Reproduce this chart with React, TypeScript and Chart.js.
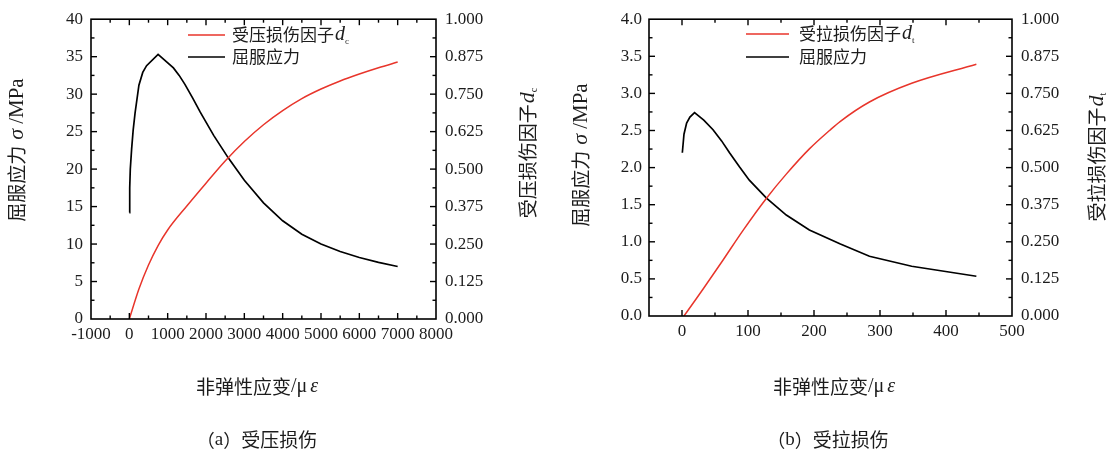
import React, { useEffect, useRef } from "react";
import { Chart, registerables } from "chart.js";
Chart.register(...registerables);

// ---------- (a) compression damage ----------
const A_STRESS_X = [0, 10, 25, 60, 100, 150, 250, 350, 450, 750, 1150, 1300, 1450, 1650, 1850, 2200, 2580, 3000, 3500, 4000, 4500, 5000, 5500, 6000, 6500, 7000];
const A_STRESS_Y = [14.2, 17.5, 20.0, 22.7, 25.2, 27.5, 31.2, 32.9, 33.8, 35.3, 33.5, 32.5, 31.3, 29.5, 27.6, 24.5, 21.5, 18.5, 15.5, 13.1, 11.3, 10.0, 9.0, 8.2, 7.55, 7.0];
const A_DAMAGE_X = [0, 250, 500, 750, 1000, 1500, 2000, 2500, 3000, 3500, 4000, 4500, 5000, 5500, 6000, 6500, 7000];
const A_DAMAGE_Y = [0, 0.1, 0.18, 0.245, 0.297, 0.377, 0.453, 0.527, 0.592, 0.648, 0.695, 0.735, 0.767, 0.794, 0.817, 0.838, 0.857];
const A_X_TICKS = [-1000, 0, 1000, 2000, 3000, 4000, 5000, 6000, 7000, 8000];
const A_YL_TICKS = [0, 5, 10, 15, 20, 25, 30, 35, 40];
const A_YR_TICKS = [0, 0.125, 0.25, 0.375, 0.5, 0.625, 0.75, 0.875, 1.0];

// ---------- (b) tension damage ----------
const B_STRESS_X = [0.5, 3, 7, 12, 19, 33, 47, 60, 72, 87, 102, 128, 158, 193, 240, 284, 348, 446];
const B_STRESS_Y = [2.2, 2.45, 2.6, 2.68, 2.74, 2.64, 2.51, 2.36, 2.2, 2.01, 1.83, 1.59, 1.36, 1.16, 0.97, 0.805, 0.67, 0.536];
const B_DAMAGE_X = [3, 20, 32, 62, 92, 128, 158, 193, 224, 240, 284, 348, 446];
const B_DAMAGE_Y = [0, 0.053, 0.091, 0.188, 0.287, 0.397, 0.478, 0.563, 0.626, 0.656, 0.721, 0.784, 0.848];
const B_X_TICKS = [0, 100, 200, 300, 400, 500];
const B_YL_TICKS = [0, 0.5, 1.0, 1.5, 2.0, 2.5, 3.0, 3.5, 4.0];
const B_YR_TICKS = [0, 0.125, 0.25, 0.375, 0.5, 0.625, 0.75, 0.875, 1.0];

const RED = "#e8352b";
const TXT = "#1c1c1c";
const CJK = '"Noto Sans CJK SC"';
const SERIF = '"Liberation Serif", serif';

type Part = { t: string; f: string; dy?: number; gap?: number };

function measureParts(ctx: CanvasRenderingContext2D, parts: Part[]) {
  let total = 0;
  const ws = parts.map((p) => {
    ctx.font = p.f;
    const w = ctx.measureText(p.t).width;
    total += w + (p.gap || 0);
    return w;
  });
  return { ws, total };
}

function drawParts(
  ctx: CanvasRenderingContext2D,
  parts: Part[],
  x0: number,
  y0: number,
  rot: number,
  align: "center" | "left"
) {
  ctx.save();
  ctx.translate(x0, y0);
  if (rot) ctx.rotate(rot);
  const { ws, total } = measureParts(ctx, parts);
  let x = align === "center" ? -total / 2 : 0;
  ctx.textBaseline = "middle";
  ctx.textAlign = "left";
  ctx.fillStyle = TXT;
  parts.forEach((p, i) => {
    x += p.gap || 0;
    ctx.font = p.f;
    ctx.fillText(p.t, x, p.dy || 0);
    x += ws[i];
  });
  ctx.restore();
}

type Deco = {
  xMajor: number;
  xMinor: number;
  ylMajor: number;
  ylMinor: number;
  leftTitle: Part[];
  leftTitlePos: [number, number];
  rightTitle: Part[];
  rightTitlePos: [number, number];
  xTitle: Part[];
  xTitlePos: [number, number];
  caption: Part[];
  captionPos: [number, number];
  legend: { color: string; parts: Part[]; y: number }[];
  legendLine: [number, number];
  legendText: number;
};

const decoPlugin = {
  id: "deco",
  afterDraw(chart: any, _args: any, opts: Deco) {
    const { ctx, chartArea: ca, scales } = chart;
    const x = scales.x;
    const yl = scales.y;
    ctx.save();
    ctx.strokeStyle = "#000";
    ctx.lineWidth = 1.6;
    ctx.strokeRect(ca.left, ca.top, ca.right - ca.left, ca.bottom - ca.top);
    ctx.lineWidth = 1.4;
    const seg = (a: number, b: number, c: number, d: number) => {
      ctx.beginPath();
      ctx.moveTo(a, b);
      ctx.lineTo(c, d);
      ctx.stroke();
    };
    const isMajor = (v: number, m: number) => Math.abs(v / m - Math.round(v / m)) < 1e-6;
    const xs = Math.ceil(x.min / opts.xMinor - 1e-9) * opts.xMinor;
    for (let v = xs; v <= x.max + 1e-9; v += opts.xMinor) {
      const px = x.getPixelForValue(v);
      if (px <= ca.left + 0.5 || px >= ca.right - 0.5) continue;
      const len = isMajor(v, opts.xMajor) ? 6 : 3.5;
      seg(px, ca.bottom, px, ca.bottom - len);
      seg(px, ca.top, px, ca.top + len);
    }
    for (let v = yl.min; v <= yl.max + 1e-9; v += opts.ylMinor) {
      const py = yl.getPixelForValue(v);
      if (py <= ca.top + 0.5 || py >= ca.bottom - 0.5) continue;
      const len = isMajor(v, opts.ylMajor) ? 6 : 3.5;
      seg(ca.left, py, ca.left + len, py);
      seg(ca.right, py, ca.right - len, py);
    }
    opts.legend.forEach((l) => {
      ctx.strokeStyle = l.color;
      ctx.lineWidth = 1.6;
      seg(opts.legendLine[0], l.y, opts.legendLine[1], l.y);
      drawParts(ctx, l.parts, opts.legendText, l.y, 0, "left");
    });
    drawParts(ctx, opts.leftTitle, opts.leftTitlePos[0], opts.leftTitlePos[1], -Math.PI / 2, "center");
    drawParts(ctx, opts.rightTitle, opts.rightTitlePos[0], opts.rightTitlePos[1], -Math.PI / 2, "center");
    drawParts(ctx, opts.xTitle, opts.xTitlePos[0], opts.xTitlePos[1], 0, "center");
    drawParts(ctx, opts.caption, opts.captionPos[0], opts.captionPos[1], 0, "center");
    ctx.restore();
  },
};

type Props = {
  width: number;
  height: number;
  left: number;
  padTop: number;
  xHeight: number;
  ylWidth: number;
  yrWidth: number;
  xMin: number;
  xMax: number;
  xTicks: number[];
  ylMax: number;
  ylTicks: number[];
  ylDigits: number;
  yrTicks: number[];
  ylPad: number;
  stressX: number[];
  stressY: number[];
  damageX: number[];
  damageY: number[];
  deco: Deco;
};

function DamageChart(p: Props) {
  const ref = useRef<HTMLCanvasElement>(null);
  useEffect(() => {
    if (!ref.current) return;
    const tickFont = { family: SERIF, size: 17 };
    const chart = new Chart(ref.current, {
      type: "line",
      data: {
        datasets: [
          {
            label: "damage",
            data: p.damageX.map((v, i) => ({ x: v, y: p.damageY[i] })),
            borderColor: RED,
            borderWidth: 1.5,
            pointRadius: 0,
            cubicInterpolationMode: "monotone",
            yAxisID: "y1",
          },
          {
            label: "stress",
            data: p.stressX.map((v, i) => ({ x: v, y: p.stressY[i] })),
            borderColor: "#000",
            borderWidth: 1.7,
            pointRadius: 0,
            tension: 0,
            yAxisID: "y",
          },
        ],
      },
      options: {
        responsive: false,
        animation: false,
        devicePixelRatio: window.devicePixelRatio || 1,
        layout: { padding: { top: p.padTop, left: 0, right: 0, bottom: 0 } },
        plugins: {
          legend: { display: false },
          tooltip: { enabled: false },
          deco: p.deco,
        } as any,
        scales: {
          x: {
            type: "linear",
            position: "bottom",
            min: p.xMin,
            max: p.xMax,
            afterBuildTicks: (s: any) => {
              s.ticks = p.xTicks.map((v) => ({ value: v }));
            },
            afterFit: (s: any) => {
              s.height = p.xHeight;
            },
            grid: { display: false, drawTicks: false },
            border: { display: false },
            ticks: {
              padding: 5,
              font: tickFont,
              color: TXT,
              maxRotation: 0,
              autoSkip: false,
              callback: (v: any) => String(v),
            },
          },
          y: {
            type: "linear",
            position: "left",
            min: 0,
            max: p.ylMax,
            afterBuildTicks: (s: any) => {
              s.ticks = p.ylTicks.map((v) => ({ value: v }));
            },
            afterFit: (s: any) => {
              s.width = p.ylWidth;
            },
            grid: { display: false, drawTicks: false },
            border: { display: false },
            ticks: {
              padding: p.ylPad,
              font: tickFont,
              color: TXT,
              autoSkip: false,
              callback: (v: any) => Number(v).toFixed(p.ylDigits),
            },
          },
          y1: {
            type: "linear",
            position: "right",
            min: 0,
            max: 1,
            afterBuildTicks: (s: any) => {
              s.ticks = p.yrTicks.map((v) => ({ value: v }));
            },
            afterFit: (s: any) => {
              s.width = p.yrWidth;
            },
            grid: { display: false, drawTicks: false },
            border: { display: false },
            ticks: {
              padding: 9,
              font: tickFont,
              color: TXT,
              autoSkip: false,
              callback: (v: any) => Number(v).toFixed(3),
            },
          },
        },
      },
      plugins: [decoPlugin as any],
    });
    return () => chart.destroy();
  }, []);
  return (
    <canvas
      ref={ref}
      width={p.width}
      height={p.height}
      style={{ position: "absolute", left: p.left, top: 0, width: p.width, height: p.height }}
    />
  );
}

const f = (size: number, fam: string, style = "") => `${style} ${size}px ${fam}`.trim();

export default function App() {
  const decoA: Deco = {
    xMajor: 1000,
    xMinor: 500,
    ylMajor: 5,
    ylMinor: 2.5,
    leftTitle: [
      { t: "屈服应力", f: f(19, CJK) },
      { t: "σ", f: f(22, SERIF, "italic"), gap: 6 },
      { t: "/MPa", f: f(21, SERIF), gap: 5 },
    ],
    leftTitlePos: [17, 150],
    rightTitle: [
      { t: "受压损伤因子", f: f(19, CJK) },
      { t: "d", f: f(22, SERIF, "italic"), gap: 1 },
      { t: "c", f: f(10, SERIF), dy: 6 },
    ],
    rightTitlePos: [528, 153],
    xTitle: [
      { t: "非弹性应变", f: f(19, CJK) },
      { t: "/μ", f: f(20, SERIF) },
      { t: "ε", f: f(20, SERIF, "italic"), gap: 3 },
    ],
    xTitlePos: [257, 387],
    caption: [
      { t: "（", f: f(18, CJK) },
      { t: "a", f: f(19, SERIF) },
      { t: "）", f: f(18, CJK) },
      { t: "受压损伤", f: f(19, CJK) },
    ],
    captionPos: [257, 440],
    legend: [
      {
        color: RED,
        y: 35,
        parts: [
          { t: "受压损伤因子", f: f(17, CJK) },
          { t: "d", f: f(20, SERIF, "italic"), gap: 1 },
          { t: "c", f: f(9, SERIF), dy: 7 },
        ],
      },
      { color: "#000", y: 57, parts: [{ t: "屈服应力", f: f(17, CJK) }] },
    ],
    legendLine: [188, 225],
    legendText: 232,
  };

  const decoB: Deco = {
    xMajor: 100,
    xMinor: 50,
    ylMajor: 0.5,
    ylMinor: 0.25,
    leftTitle: [
      { t: "屈服应力", f: f(19, CJK) },
      { t: "σ", f: f(22, SERIF, "italic"), gap: 6 },
      { t: "/MPa", f: f(21, SERIF), gap: 5 },
    ],
    leftTitlePos: [23, 155],
    rightTitle: [
      { t: "受拉损伤因子", f: f(19, CJK) },
      { t: "d", f: f(22, SERIF, "italic"), gap: 1 },
      { t: "t", f: f(10, SERIF), dy: 6 },
    ],
    rightTitlePos: [539, 157],
    xTitle: [
      { t: "非弹性应变", f: f(19, CJK) },
      { t: "/μ", f: f(20, SERIF) },
      { t: "ε", f: f(20, SERIF, "italic"), gap: 3 },
    ],
    xTitlePos: [276, 387],
    caption: [
      { t: "（", f: f(18, CJK) },
      { t: "b", f: f(19, SERIF) },
      { t: "）", f: f(18, CJK) },
      { t: "受拉损伤", f: f(19, CJK) },
    ],
    captionPos: [270, 440],
    legend: [
      {
        color: RED,
        y: 34,
        parts: [
          { t: "受拉损伤因子", f: f(17, CJK) },
          { t: "d", f: f(20, SERIF, "italic"), gap: 1 },
          { t: "t", f: f(9, SERIF), dy: 7 },
        ],
      },
      { color: "#000", y: 57, parts: [{ t: "屈服应力", f: f(17, CJK) }] },
    ],
    legendLine: [188, 231],
    legendText: 241,
  };

  return (
    <div style={{ position: "fixed", left: 0, top: 0, width: 1117, height: 453, background: "#fff", overflow: "hidden" }}>
      <DamageChart
        width={558}
        height={453}
        left={0}
        padTop={18}
        xHeight={134}
        ylWidth={91}
        yrWidth={122}
        xMin={-1000}
        xMax={8000}
        xTicks={A_X_TICKS}
        ylMax={40}
        ylTicks={A_YL_TICKS}
        ylDigits={0}
        yrTicks={A_YR_TICKS}
        ylPad={8}
        stressX={A_STRESS_X}
        stressY={A_STRESS_Y}
        damageX={A_DAMAGE_X}
        damageY={A_DAMAGE_Y}
        deco={decoA}
      />
      <DamageChart
        width={559}
        height={453}
        left={558}
        padTop={13.5}
        xHeight={137}
        ylWidth={91}
        yrWidth={105}
        xMin={-50}
        xMax={500}
        xTicks={B_X_TICKS}
        ylMax={4}
        ylTicks={B_YL_TICKS}
        ylDigits={1}
        yrTicks={B_YR_TICKS}
        ylPad={7}
        stressX={B_STRESS_X}
        stressY={B_STRESS_Y}
        damageX={B_DAMAGE_X}
        damageY={B_DAMAGE_Y}
        deco={decoB}
      />
    </div>
  );
}
